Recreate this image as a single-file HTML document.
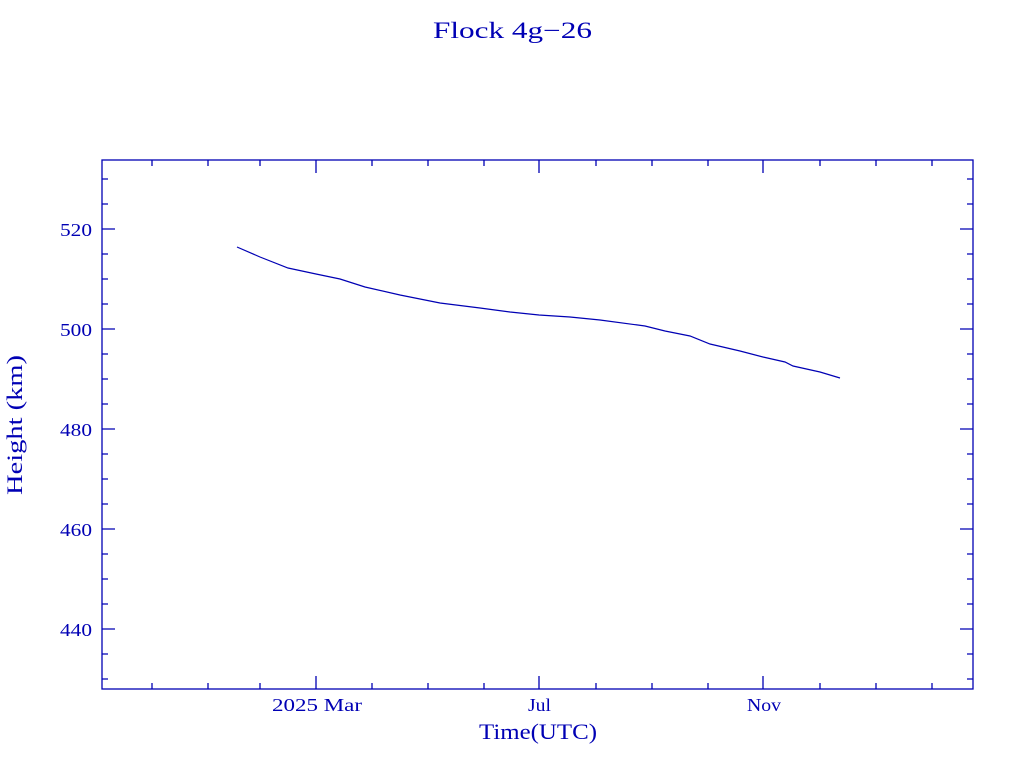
<!DOCTYPE html>
<html><head><style>
html,body{margin:0;padding:0;background:#fff;}
svg text{font-family:"Liberation Serif",serif;fill:#0000b4;}
</style></head><body>
<svg width="1024" height="768" xmlns="http://www.w3.org/2000/svg">
<rect width="1024" height="768" fill="#fff"/>
<text x="433" y="38" font-size="23" textLength="159" lengthAdjust="spacingAndGlyphs">Flock 4g−26</text>
<g stroke="#0000b4" stroke-width="1.3" fill="none">
<rect x="102" y="160" width="871" height="529"/>
<path d="M102 229h13M102 329h13M102 429h13M102 529h13M102 629h13M973 229h-13M973 329h-13M973 429h-13M973 529h-13M973 629h-13"/>
<path d="M102 179h6M102 204h6M102 254h6M102 279h6M102 304h6M102 354h6M102 379h6M102 404h6M102 454h6M102 479h6M102 504h6M102 554h6M102 579h6M102 604h6M102 654h6M102 679h6
M973 179h-6M973 204h-6M973 254h-6M973 279h-6M973 304h-6M973 354h-6M973 379h-6M973 404h-6M973 454h-6M973 479h-6M973 504h-6M973 554h-6M973 579h-6M973 604h-6M973 654h-6M973 679h-6"/>
<path d="M316 689v-13M539 689v-13M763 689v-13M316 160v13M539 160v13M763 160v13
M152 689v-6M208 689v-6M260 689v-6M372 689v-6M428 689v-6M484 689v-6M596 689v-6M652 689v-6M708 689v-6M820 689v-6M876 689v-6M932 689v-6
M152 160v6M208 160v6M260 160v6M372 160v6M428 160v6M484 160v6M596 160v6M652 160v6M708 160v6M820 160v6M876 160v6M932 160v6"/>
<polyline stroke-width="1.2" points="237,247 260,257 288,268 316,274 340,279 365,287 400,295 440,303 480,308 510,312 539,315 570,317 600,320 645,326 665,331 690,336 710,344 740,351 763,357 785,362 793,366 820,372 840,378"/>
</g>
<g font-size="18">
<text x="60" y="236" textLength="32" lengthAdjust="spacingAndGlyphs">520</text>
<text x="60" y="336" textLength="32" lengthAdjust="spacingAndGlyphs">500</text>
<text x="60" y="436" textLength="32" lengthAdjust="spacingAndGlyphs">480</text>
<text x="60" y="536" textLength="32" lengthAdjust="spacingAndGlyphs">460</text>
<text x="60" y="636" textLength="32" lengthAdjust="spacingAndGlyphs">440</text>
<text x="272" y="711" textLength="90" lengthAdjust="spacingAndGlyphs">2025 Mar</text>
<text x="528" y="711" textLength="23" lengthAdjust="spacingAndGlyphs">Jul</text>
<text x="747" y="711" textLength="34" lengthAdjust="spacingAndGlyphs">Nov</text>
</g>
<text x="479" y="739" font-size="22" textLength="118" lengthAdjust="spacingAndGlyphs">Time(UTC)</text>
<text transform="translate(22,495) rotate(-90)" font-size="22" textLength="140" lengthAdjust="spacingAndGlyphs">Height (km)</text>
</svg>
</body></html>
